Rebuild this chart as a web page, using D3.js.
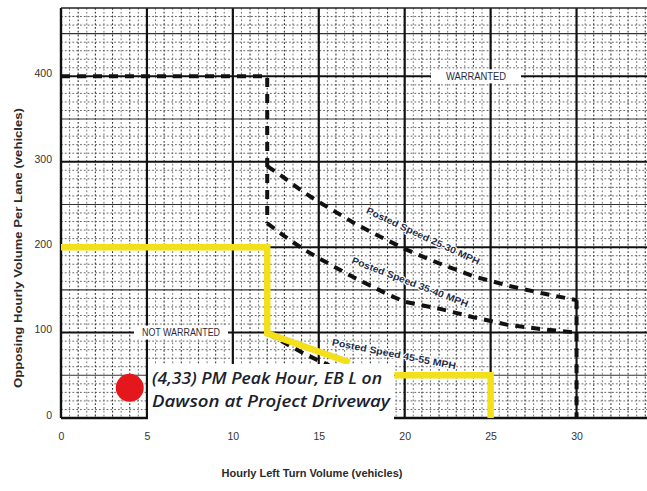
<!DOCTYPE html>
<html>
<head>
<meta charset="utf-8">
<script src="https://cdn.jsdelivr.net/npm/d3@7/dist/d3.min.js"></script>
<style>
  html, body { margin: 0; padding: 0; background: #fff; }
  svg { display: block; }
</style>
</head>
<body>
<svg id="chart" width="647" height="491"></svg>
<script>
// ---------- data ----------
const xTicks = [0, 5, 10, 15, 20, 25, 30];
const yTicks = [0, 100, 200, 300, 400];

const topEdgeX = [0, 12, 12];
const topEdgeY = [400, 400, 228];

const curve2530X = [12, 13, 14, 15, 16, 17, 18, 19, 20, 22, 24, 26, 28, 30];
const curve2530Y = [295, 281, 266, 253, 241, 229, 218, 208, 198, 181, 166, 155, 146, 138];

const curve3540X = [12, 13, 14, 15, 16, 17, 18, 19, 20, 22, 24, 26, 28, 30];
const curve3540Y = [228, 213, 199, 187, 176, 165, 155, 145, 136, 128, 118, 109, 104, 100];

const edge30X = [30, 30];
const edge30Y = [138, 0];

const curve4555X = [12, 13, 14, 15, 15.6];
const curve4555Y = [99, 88, 77, 67, 62];

const projectX = [0, 12, 12, 16.8, null, 19.4, 25, 25];
const projectY = [200, 200, 99, 65, null, 50, 50, 0];

const pointX = [4];
const pointY = [33];

const annotationLines = ["(4,33) PM Peak Hour, EB L on", "Dawson at Project Driveway"];
const speedLabels = ["Posted Speed 25-30 MPH", "Posted Speed 35-40 MPH", "Posted Speed 45-55 MPH"];

// ---------- layout ----------
const svg = d3.select("#chart");
const L = 61, R = 647, T = 8, B = 418;
const x = d3.scaleLinear().domain([0, 34.1]).range([L, R]);
const y = d3.scaleLinear().domain([0, 480]).range([B, T]);

const zip = (xs, ys) => xs.map((v, i) => [v, ys[i]]);
const line = d3.line().defined(d => d[0] !== null && d[1] !== null).x(d => x(d[0])).y(d => y(d[1]));

// ---------- grid ----------
const g = svg.append("g");
const xMax = x.domain()[1], yMax = y.domain()[1];

d3.range(0.5, xMax, 0.5).forEach(v => {
  if (v % 5 === 0) return;
  g.append("line").attr("x1", x(v)).attr("x2", x(v)).attr("y1", y(yMax)).attr("y2", y(0))
    .attr("stroke", v % 1 === 0 ? "#333" : "#666")
    .attr("stroke-width", v % 1 === 0 ? 1.1 : 0.9)
    .attr("stroke-dasharray", "1.8,2");
});
d3.range(10, yMax, 10).forEach(v => {
  if (v % 50 === 0) return;
  g.append("line").attr("x1", x(0)).attr("x2", x(xMax)).attr("y1", y(v)).attr("y2", y(v))
    .attr("stroke", "#555").attr("stroke-width", 0.9)
    .attr("stroke-dasharray", "1.8,2");
});
d3.range(50, yMax, 100).forEach(v => {
  g.append("line").attr("x1", x(0)).attr("x2", x(xMax)).attr("y1", y(v)).attr("y2", y(v))
    .attr("stroke", "#333").attr("stroke-width", 1.1);
});
d3.range(5, xMax, 5).forEach(v => {
  g.append("line").attr("x1", x(v)).attr("x2", x(v)).attr("y1", y(yMax)).attr("y2", y(0))
    .attr("stroke", "#111").attr("stroke-width", 2.2);
});
d3.range(100, yMax, 100).forEach(v => {
  g.append("line").attr("x1", x(0)).attr("x2", x(xMax)).attr("y1", y(v)).attr("y2", y(v))
    .attr("stroke", "#111").attr("stroke-width", 2);
});
g.append("line").attr("x1", x(0)).attr("x2", x(0)).attr("y1", y(yMax)).attr("y2", y(0)).attr("stroke", "#111").attr("stroke-width", 2.4);
g.append("line").attr("x1", x(0)).attr("x2", x(xMax)).attr("y1", y(yMax)).attr("y2", y(yMax)).attr("stroke", "#222").attr("stroke-width", 1.6);
g.append("line").attr("x1", x(0)).attr("x2", x(xMax)).attr("y1", y(0)).attr("y2", y(0)).attr("stroke", "#111").attr("stroke-width", 2.4);

// ---------- region labels with white boxes ----------
function boxedLabel(txt, cx, cy, w, h, len, fs) {
  svg.append("rect").attr("x", cx - w / 2).attr("y", cy - h / 2).attr("width", w).attr("height", h).attr("fill", "#fff");
  svg.append("text").attr("x", cx).attr("y", cy + fs * 0.35).attr("text-anchor", "middle")
    .attr("font-family", "Liberation Sans, Arial, sans-serif").attr("font-size", fs)
    .attr("fill", "#2a2a3a").attr("textLength", len).attr("lengthAdjust", "spacingAndGlyphs")
    .text(txt);
}
boxedLabel("WARRANTED", 476, y(400), 90, 14, 60, 10);
boxedLabel("NOT WARRANTED", 181, y(100), 94, 14, 78, 10);

// ---------- curves ----------
[[topEdgeX, topEdgeY], [curve2530X, curve2530Y], [curve3540X, curve3540Y], [edge30X, edge30Y], [curve4555X, curve4555Y]]
  .forEach(([xs, ys]) => {
    svg.append("path").attr("d", line(zip(xs, ys))).attr("fill", "none")
      .attr("stroke", "#111").attr("stroke-width", 4)
      .attr("stroke-dasharray", "9,7");
  });

const labelPos = [
  { cx: 423, cy: 236, ang: 25, len: 124 },
  { cx: 410, cy: 282, ang: 21, len: 124 },
  { cx: 394, cy: 354, ang: 11, len: 126 }
];
speedLabels.forEach((t, i) => {
  const p = labelPos[i];
  svg.append("text").attr("transform", `translate(${p.cx},${p.cy}) rotate(${p.ang})`)
    .attr("text-anchor", "middle").attr("dy", "0.35em")
    .attr("font-family", "Liberation Sans, Arial, sans-serif").attr("font-size", 9.5).attr("font-weight", "bold")
    .attr("fill", "#1e2b4a").attr("stroke", "#fff").attr("stroke-width", 2.2).attr("paint-order", "stroke")
    .attr("textLength", p.len).attr("lengthAdjust", "spacingAndGlyphs")
    .text(t);
});

svg.append("path").attr("d", line(zip(projectX, projectY))).attr("fill", "none")
  .attr("stroke", "#f3e01a").attr("stroke-width", 6.5).attr("stroke-linejoin", "miter");

svg.append("rect").attr("x", 148).attr("y", 364).attr("width", 246).attr("height", 62).attr("fill", "#fff");
const annY = [384, 407];
const annLen = [230, 238];
annotationLines.forEach((t, i) => {
  svg.append("text").attr("x", 152).attr("y", annY[i])
    .attr("font-family", "Open Sans, Lato, sans-serif").attr("font-style", "italic").attr("font-weight", 600)
    .attr("font-size", 17).attr("fill", "#1b1f30")
    .attr("textLength", annLen[i]).attr("lengthAdjust", "spacingAndGlyphs")
    .text(t);
});

svg.selectAll("circle.pt").data(zip(pointX, pointY)).enter().append("circle")
  .attr("cx", d => x(d[0])).attr("cy", d => y(d[1]) - 2).attr("r", 14).attr("fill", "#e3171c");

// ---------- axes ----------
const xAxis = d3.axisBottom(x).tickValues(xTicks).tickSize(0).tickPadding(0);
const xa = svg.append("g").attr("transform", `translate(0,${B + 15})`).call(xAxis);
xa.select(".domain").remove();
xa.selectAll("text").attr("font-family", "Liberation Sans Narrow, Liberation Sans, sans-serif")
  .attr("font-size", 10.5).attr("fill", "#333").attr("dy", "0.7em");

const yAxis = d3.axisLeft(y).tickValues(yTicks).tickSize(0).tickPadding(0);
const ya = svg.append("g").attr("transform", `translate(${L - 9},-3)`).call(yAxis);
ya.select(".domain").remove();
ya.selectAll("text").attr("font-family", "Liberation Sans Narrow, Liberation Sans, sans-serif")
  .attr("font-size", 10.5).attr("fill", "#333");

svg.append("text").attr("x", 312).attr("y", 477).attr("text-anchor", "middle")
  .attr("font-family", "Liberation Sans Narrow, Liberation Sans, sans-serif").attr("font-weight", "bold")
  .attr("font-size", 10.5).attr("fill", "#2a2a2a")
  .attr("textLength", 181).attr("lengthAdjust", "spacingAndGlyphs")
  .text("Hourly Left Turn Volume (vehicles)");
svg.append("text").attr("transform", "translate(22,248) rotate(-90)").attr("text-anchor", "middle")
  .attr("font-family", "Liberation Sans Narrow, Liberation Sans, sans-serif").attr("font-weight", "bold")
  .attr("font-size", 10.5).attr("fill", "#2a2a2a")
  .attr("textLength", 280).attr("lengthAdjust", "spacingAndGlyphs")
  .text("Opposing Hourly Volume Per Lane (vehicles)");
</script>
</body>
</html>
